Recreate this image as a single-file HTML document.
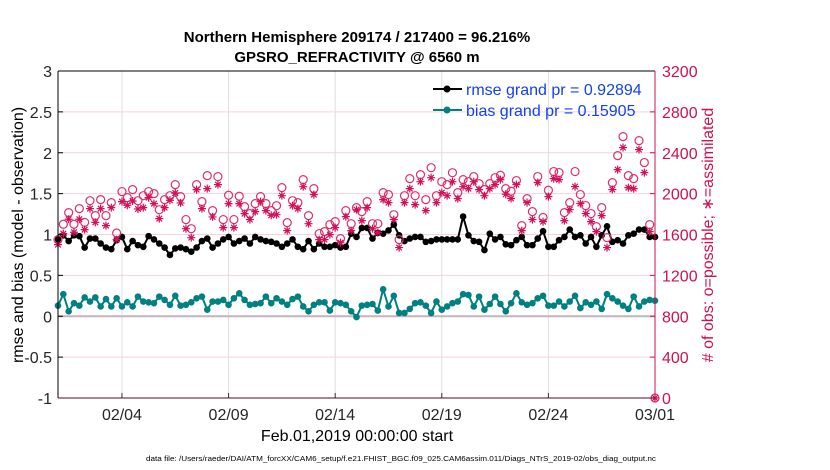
<!DOCTYPE html>
<html><head><meta charset="utf-8"><style>
html,body{margin:0;padding:0;background:#fff;}
svg{display:block;font-family:"Liberation Sans",Arial,sans-serif;}
</style></head><body>
<svg id="chart" width="830" height="470" viewBox="0 0 830 470" xmlns="http://www.w3.org/2000/svg">
<rect width="830" height="470" fill="#fff"/>
<g id="grid"></g>
<g id="series"></g>
<g id="axes"></g>
<text x="357" y="42" text-anchor="middle" font-size="15" font-weight="bold">Northern Hemisphere 209174 / 217400 = 96.216%</text>
<text x="357" y="62" text-anchor="middle" font-size="15" font-weight="bold">GPSRO_REFRACTIVITY @ 6560 m</text>
<text transform="translate(23,235) rotate(-90)" text-anchor="middle" font-size="16">rmse and bias (model - observation)</text>
<text transform="translate(713,235) rotate(-90)" text-anchor="middle" font-size="16" fill="#d0104c">#  of obs: o=possible; ∗=assimilated</text>
<text x="357" y="441" text-anchor="middle" font-size="16">Feb.01,2019 00:00:00 start</text>
<text x="146" y="461" font-size="7" textLength="510" lengthAdjust="spacingAndGlyphs">data file: /Users/raeder/DAI/ATM_forcXX/CAM6_setup/f.e21.FHIST_BGC.f09_025.CAM6assim.011/Diags_NTrS_2019-02/obs_diag_output.nc</text>
<g>
<g>
<line x1="433" y1="89" x2="462" y2="89" stroke="#000" stroke-width="2"/><circle cx="447" cy="89" r="3.5" fill="#000"/>
<text x="466" y="95" font-size="16" fill="#1240f0">rmse grand pr = 0.92894</text></g>
<g>
<line x1="433" y1="110" x2="462" y2="110" stroke="#008080" stroke-width="2"/><circle cx="447" cy="110" r="3.5" fill="#008080"/>
<text x="466" y="116" font-size="16" fill="#1240f0">bias grand pr = 0.15905</text></g>
</g>
</svg>
<script>
const xTickLabels=["02/04","02/09","02/14","02/19","02/24","03/01"];
const xTickDays=[4,9,14,19,24,29];
const yTickLabels=["-1","-0.5","0","0.5","1","1.5","2","2.5","3"];
const y2TickLabels=["0","400","800","1200","1600","2000","2400","2800","3200"];
const rmse=[0.94,0.99,0.92,0.99,0.98,0.84,0.95,0.95,0.89,0.84,0.82,0.93,0.97,0.82,0.92,0.87,0.85,0.98,0.94,0.89,0.84,0.75,0.83,0.84,0.82,0.79,0.84,0.92,0.95,
0.84,0.89,0.94,0.97,0.89,0.92,0.95,0.89,0.97,0.94,0.92,0.91,0.89,0.85,0.89,0.94,0.85,0.82,0.92,0.82,0.89,0.85,0.85,0.87,0.84,0.85,1.01,
0.97,1.08,1.08,0.95,1.02,1.01,1.05,1.12,0.99,0.92,0.95,0.97,0.97,0.91,0.92,0.94,0.94,0.94,0.94,0.94,1.22,0.99,0.92,0.91,0.81,1.01,0.94,0.97,
0.88,0.87,0.93,0.97,0.87,0.87,0.95,1.04,0.85,0.85,0.93,0.97,1.06,0.97,0.99,0.89,0.97,0.85,0.99,1.10,0.91,0.93,0.89,0.99,1.01,1.06,1.06,0.97,0.97];
const bias=[0.13,0.27,0.06,0.16,0.13,0.23,0.18,0.23,0.12,0.21,0.12,0.22,0.12,0.17,0.12,0.24,0.18,0.17,0.16,0.24,0.20,0.14,0.25,0.13,0.14,0.17,0.22,0.24,0.08,
0.18,0.18,0.20,0.14,0.22,0.28,0.20,0.14,0.15,0.16,0.24,0.16,0.22,0.18,0.14,0.21,0.24,0.12,0.06,0.14,0.17,0.17,0.07,0.17,0.16,0.14,0.06,
-0.01,0.13,0.14,0.15,0.07,0.33,0.12,0.25,0.04,0.04,0.09,0.16,0.17,0.13,0.04,0.18,0.08,0.12,0.16,0.18,0.27,0.26,0.12,0.24,0.08,0.15,0.24,0.15,
0.06,0.16,0.28,0.17,0.14,0.16,0.22,0.25,0.13,0.13,0.18,0.12,0.18,0.25,0.10,0.17,0.14,0.18,0.09,0.27,0.22,0.18,0.13,0.09,0.24,0.12,0.18,0.20,0.19];
const nPossible=[1550,1700,1814,1700,1853,1719,1931,1785,1941,1785,1912,1615,2020,1961,2039,1931,1980,2020,2000,1843,1941,1980,2088,1971,1746,1657,2088,1922,
2176,1834,2166,1746,1984,1746,1974,1873,1804,1902,1971,1902,1834,1882,2059,1716,1931,1912,2137,1785,2049,1609,1628,1697,1726,1560,1834,1706,
1863,1824,1922,1706,1706,2010,1990,1794,1550,1980,2147,1980,2186,1941,2254,1980,2117,2088,2205,2010,2137,2117,2166,2098,2039,2098,2156,
2180,2049,2023,2128,1687,1951,1824,2167,1766,2033,2216,2206,1814,1912,2216,1991,1883,1805,1677,1863,1570,2108,2372,2558,2176,2147,2519,2304,1697,0];
const nAssim=[1501,1609,1749,1622,1749,1648,1853,1719,1853,1687,1863,1550,1922,1886,1928,1850,1863,1961,1902,1755,1863,1935,2006,1909,1657,1569,2039,1853,
2049,1772,2088,1667,1902,1667,1902,1804,1746,1824,1922,1834,1788,1794,1980,1638,1882,1853,2068,1706,1990,1550,1550,1599,1667,1520,1775,1638,
1843,1736,1863,1657,1618,1941,1912,1746,1472,1912,2049,1892,2117,1834,2156,1912,2010,1980,2117,1951,2068,2049,2117,2039,1980,2049,2088,
2137,1994,1952,2088,1638,1912,1746,2108,1726,1971,2147,2137,1736,1844,2069,1903,1805,1726,1628,1785,1472,2040,2235,2451,2059,2049,2431,2206,1628,0];

const NS="http://www.w3.org/2000/svg";
const X0=58,X1=655,Y0=71,Y1=398;
const dayMin=1,dayMax=29,stepDays=0.25;
function xDay(d){return X0+(d-dayMin)/(dayMax-dayMin)*(X1-X0);}
function xIdx(i){return xDay(dayMin+i*stepDays);}
function yL(v){return Y1-(v+1)/4*(Y1-Y0);}
function yR(c){return Y1-c/3200*(Y1-Y0);}
function mk(tag,attrs,parent){const e=document.createElementNS(NS,tag);for(const k in attrs)e.setAttribute(k,attrs[k]);parent.appendChild(e);return e;}
const gridG=document.getElementById('grid'),seriesG=document.getElementById('series'),axesG=document.getElementById('axes');

xTickDays.forEach((d,i)=>{
  const x=xDay(d);
  const g=mk('line',{x1:x,y1:Y0,x2:x,y2:Y1,stroke:'#dedede','stroke-width':1},gridG);
  
  
  const t=mk('line',{x1:x,y1:Y1,x2:x,y2:Y1-5,stroke:'#333','stroke-width':1},axesG);
  
  
  const l=mk('text',{x:x,y:Y1+22,'text-anchor':'middle','font-size':16,fill:'#262626'},axesG);
  l.textContent=xTickLabels[i];
  
  
});
yTickLabels.forEach((lab,i)=>{
  const v=parseFloat(lab),y=yL(v);
  if(v!==0&&v!==3&&v!==-1){
    const g=mk('line',{x1:X0,y1:y,x2:X1,y2:y,stroke:'#f4d3df','stroke-width':1},gridG);
    
    
  }
  const l=mk('text',{x:X0-6,y:y+6,'text-anchor':'end','font-size':16,fill:'#262626'},axesG);
  l.textContent=lab;
  
  
  const t=mk('line',{x1:X0,y1:y,x2:X0+5,y2:y,stroke:'#000'},axesG);
  
  
});
y2TickLabels.forEach(lab=>{
  const y=yR(parseFloat(lab));
  const l=mk('text',{x:X1+7,y:y+6,'font-size':16,fill:'#d0104c'},axesG);
  l.textContent=lab;
  
  
  const t=mk('line',{x1:X1,y1:y,x2:X1-5,y2:y,stroke:'#d0104c'},axesG);
  
  
});
const zl=mk('line',{x1:X0,y1:yL(0),x2:X1,y2:yL(0),stroke:'#c4b4bc','stroke-width':2},gridG);



function linePoints(arr){return arr.map((v,i)=>xIdx(i)+','+yL(v)).join(' ');}
[['rmse',rmse,'#000'],['bias',bias,'#008080']].forEach(([nm,arr,col])=>{
  const pl=mk('polyline',{points:linePoints(arr),fill:'none',stroke:col,'stroke-width':2},seriesG);
  
  
  arr.forEach((v,i)=>{
    const c=mk('circle',{cx:xIdx(i),cy:yL(v),r:3.3,fill:col},seriesG);
    
    
  });
});
nPossible.forEach((c,i)=>{
  const e=mk('circle',{cx:xIdx(i),cy:yR(c),r:4,fill:'none',stroke:'#e0306a','stroke-width':1.2},seriesG);
  
  
});
nAssim.forEach((c,i)=>{
  const x=xIdx(i),y=yR(c),s=4;
  const p=mk('path',{d:`M${x-s},${y}H${x+s}M${x},${y-s}V${y+s}M${x-s*0.7},${y-s*0.7}L${x+s*0.7},${y+s*0.7}M${x-s*0.7},${y+s*0.7}L${x+s*0.7},${y-s*0.7}`,stroke:'#d0105a','stroke-width':1.2,fill:'none'},seriesG);
  
  
});

const topBorder=mk('line',{x1:X0,y1:Y0,x2:X1,y2:Y0,stroke:'#000'},axesG);


const leftAxis=mk('line',{x1:X0,y1:Y0,x2:X0,y2:Y1,stroke:'#000'},axesG);


const bottomAxis=mk('line',{x1:X0,y1:Y1,x2:X1,y2:Y1,stroke:'#4a1020'},axesG);


const rightAxis=mk('line',{x1:X1,y1:Y0,x2:X1,y2:Y1,stroke:'#d0104c'},axesG);


</script>
</body></html>
